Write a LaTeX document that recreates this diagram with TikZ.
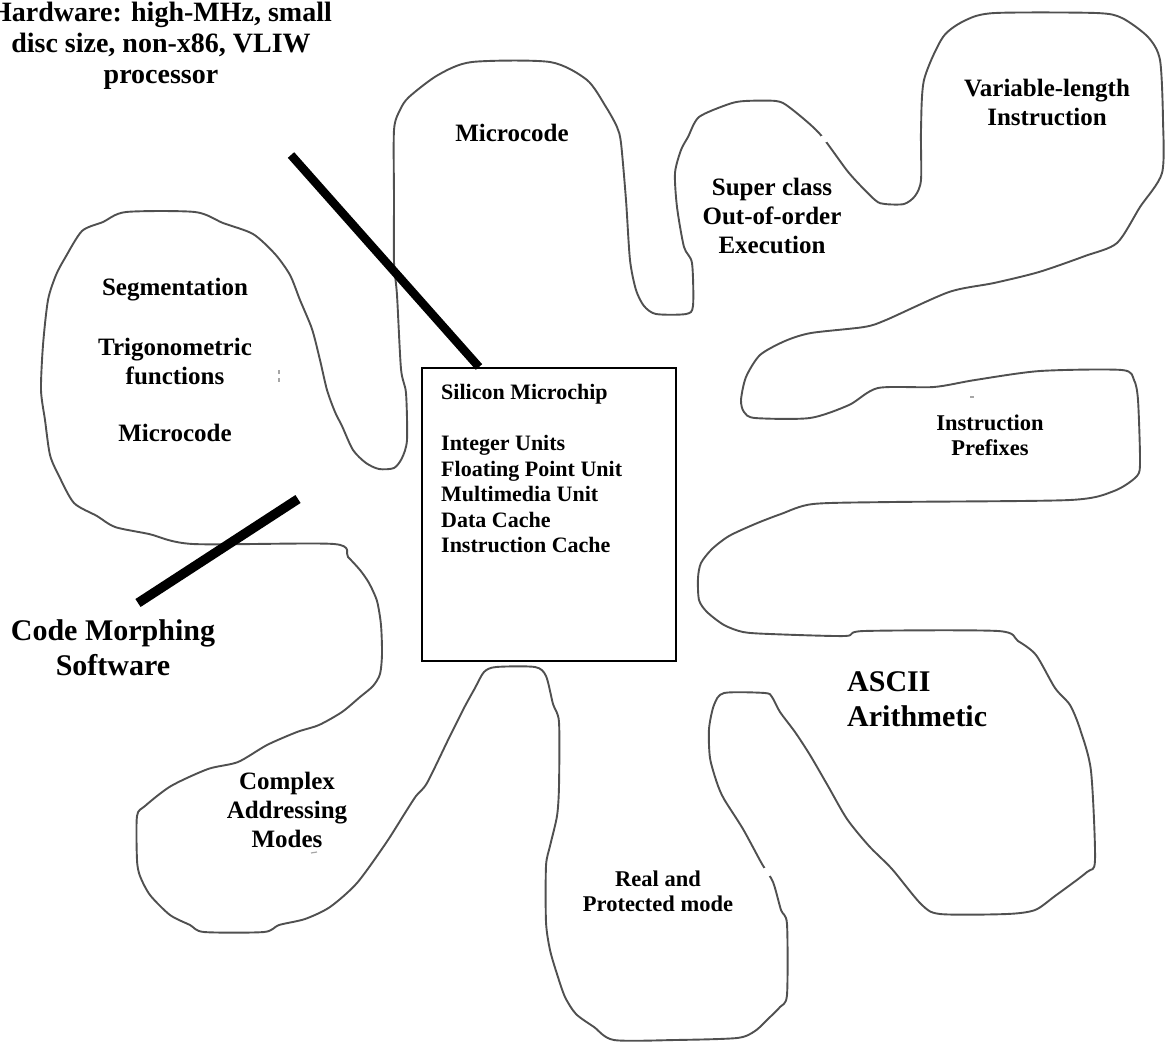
\documentclass[tikz,border=0pt]{standalone}
\usepackage{fontspec}
\setmainfont{Liberation Serif}
\definecolor{olgray}{RGB}{80,80,80}
\tikzset{
  outline/.style={draw=olgray, line width=1.9pt, line join=round},
  lblbase/.style={inner sep=0pt, align=center},
  lblmid/.style={lblbase, font=\bfseries\fontsize{25}{29}\selectfont},
  lblsmall/.style={lblbase, font=\bfseries\fontsize{22.5}{25}\selectfont},
  lblbig/.style={lblbase, font=\bfseries\fontsize{30}{35}\selectfont},
  lblhead/.style={lblbase, font=\bfseries\fontsize{28}{31}\selectfont},
  chipbox/.style={draw=black, line width=1.6pt, minimum width=254pt, minimum height=293pt, inner sep=0pt},
  chiptxt/.style={inner sep=0pt, align=left, font=\bfseries\fontsize{22}{25.5}\selectfont},
  heavyline/.style={draw=black, line width=8.5pt},
  speck/.style={draw=gray!70, line width=1.2pt},
  linegap/.style={fill=white, draw=none}
}
\begin{document}
\begin{tikzpicture}[x=1pt,y=-1pt]
\useasboundingbox (0,0) rectangle (1165,1045);

% the single closed outline of petals
\draw[outline] plot[smooth cycle, tension=0.45] coordinates {
(394,262) (394,200) (394,130) (400,110) (409,97) (438,75) (472,62) (550,62) (587,80) (606,107) (617,127) (621,143) (626,200) (630,260) (636,290) (644,306) (656,314) (686,314) (693,306) (692,263) (684,247) (677,207) (675,173) (681,150) (688,137) (699,117) (729,104) (745,101) (776,101) (789,107) (819,133) (849,173) (875,200) (885,204) (904,204) (915,196) (921,180) (921,130) (924,80) (943,37) (966,20) (995,13) (1096,13) (1122,18) (1148,37) (1160,60) (1163,120) (1162,173) (1140,207) (1117,243) (1085,256) (1039,272) (994,283) (949,292) (886,320) (864,327) (811,333) (785,341) (760,355) (746,377) (741,400) (744,412) (755,418) (810,418) (849,405) (878,388) (934,387) (975,380) (1040,371) (1122,370) (1134,380) (1138,400) (1140,460) (1137,476) (1114,491) (1070,500) (892,502) (813,504) (781,514) (755,524) (729,536) (712,549) (701,563) (698,578) (699,600) (707,612) (724,625) (743,632) (770,634) (845,636) (864,631) (998,631) (1018,641) (1036,655) (1055,688) (1070,705) (1080,729) (1091,771) (1095,860) (1087,872) (1055,896) (1035,910) (1007,914) (940,914) (921,904) (892,869) (869,846) (847,819) (828,786) (810,755) (795,732) (780,712) (772,697) (765,693) (724,693) (714,705) (709,729) (710,758) (717,783) (724,799) (743,829) (762,864) (773,882) (781,910) (787,924) (787,995) (780,1007) (769,1018) (755,1031) (737,1038) (675,1040) (614,1040) (594,1027) (576,1014) (565,997) (557,974) (550,950) (546,922) (546,866) (550,846) (557,816) (559,786) (559,722) (553,704) (546,676) (535,667) (496,667) (484,672) (475,688) (464,708) (449,738) (427,783) (416,796) (405,813) (386,843) (357,883) (330,907) (305,919) (279,925) (264,932) (204,932) (190,925) (170,915) (150,895) (140,876) (137,860) (137,816) (145,806) (171,786) (208,769) (238,762) (267,745) (297,732) (319,725) (342,712) (360,697) (373,686) (380,674) (382,654) (381,625) (377,601) (369,583) (360,570) (348,557) (334,544) (193,544) (149,534) (115,527) (97,516) (74,503) (59,476) (50,455) (45,420) (41,390) (43,345) (48,300) (56,275) (65,258) (82,231) (103,222) (126,212) (195,212) (223,223) (253,234) (275,254) (290,275) (300,300) (312,329) (320,360) (327,390) (335,412) (342,426) (353,450) (366,463) (379,469) (394,468) (402,458) (407,440) (406,393) (401,369) (397,295)
};

% small breaks in the outline
\fill[linegap] (824,139) circle (4pt);
\fill[linegap] (767,872) circle (5pt);

% small specks
\draw[speck] (279,370) -- (279,374) (279,378) -- (279,382);
\draw[speck] (970,397) -- (974,397);
\draw[speck] (311,853) -- (317,852);

% central chip box
\node[chipbox, anchor=north west] (chip) at (421,367) {};
\node[chiptxt, anchor=west] (chiptext) at (441,468.5) {Silicon Microchip\\[25.5pt]Integer Units\\Floating Point Unit\\Multimedia Unit\\Data Cache\\Instruction Cache};

% heavy lines
\coordinate (hwend) at (291,155);
\coordinate (chiptop) at (479,367);
\draw[heavyline] (hwend) -- (chiptop);
\coordinate (cmsA) at (298,499);
\coordinate (cmsB) at (138,603);
\draw[heavyline, line width=9.5pt] (cmsA) -- (cmsB);

% labels
\node[lblhead] (hw) at (161,46) {Hardware: high-MHz, small\\disc size, non-x86, VLIW\\processor};
\node[lblmid] (mctop) at (512,133) {Microcode};
\node[lblmid] (varlen) at (1047,102.5) {Variable-length\\Instruction};
\node[lblmid] (super) at (772,216) {Super class\\Out-of-order\\Execution};
\node[lblmid] (seg) at (175,290) {Segmentation};
\node[lblmid] (trig) at (175,361.5) {Trigonometric\\functions};
\node[lblmid] (mcleft) at (175,433) {Microcode};
\node[lblsmall] (prefix) at (990,435.5) {Instruction\\Prefixes};
\node[lblbig] (cms) at (113,647.5) {Code Morphing\\Software};
\node[lblbig, align=left, anchor=west] (ascii) at (847,699.5) {ASCII\\Arithmetic};
\node[lblmid] (complex) at (287,809.5) {Complex\\Addressing\\Modes};
\node[lblsmall] (real) at (658,891.5) {Real and\\Protected mode};
\end{tikzpicture}
\end{document}
